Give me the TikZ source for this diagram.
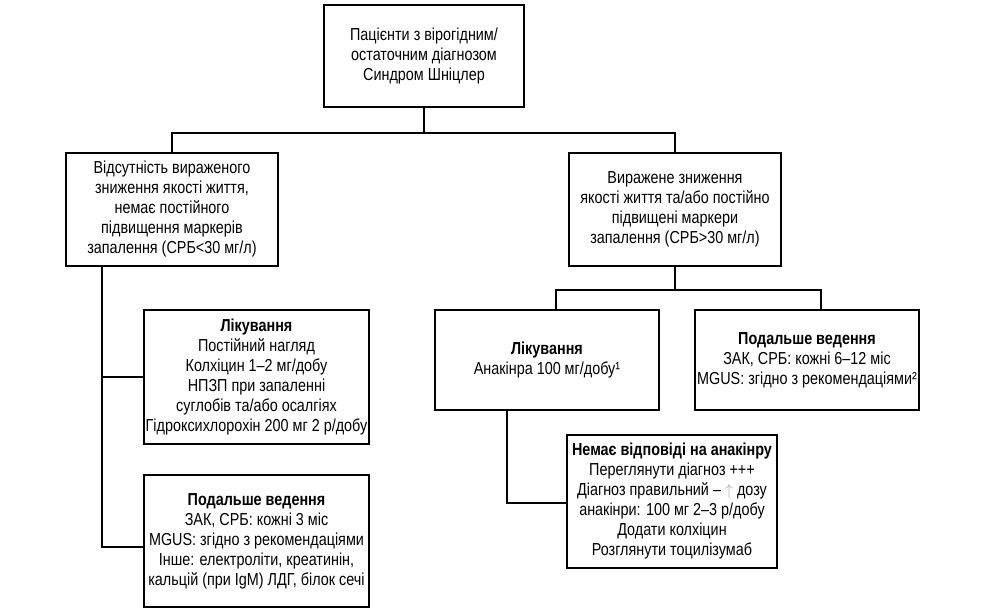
\documentclass[tikz,border=0pt]{standalone}
\usepackage{fontspec}
\setmainfont{Liberation Sans}[FakeStretch=0.83]
\usetikzlibrary{calc}
\begin{document}
\begin{tikzpicture}[x=0.75pt,y=-0.75pt,
  box/.style={draw, line width=1.3pt, inner sep=0pt, align=center, font=\fontsize{13}{15}\selectfont},
  conn/.style={line width=1.3pt}]
\useasboundingbox (0,0) rectangle (986,611);
\fill[white] (0,0) rectangle (986,611);
\node[box, minimum width=150pt, minimum height=76.5pt] (top) at (424,56)
  {Пацієнти з вірогідним/\\остаточним діагнозом\\Синдром Шніцлер};
\node[box, minimum width=159pt, minimum height=84.75pt] (L1) at (172,209.5)
  {Відсутність вираженого\\зниження якості життя,\\немає постійного\\підвищення маркерів\\запалення (СРБ<30 мг/л)};
\node[box, minimum width=159pt, minimum height=84.75pt] (R1) at (675,209.5)
  {Виражене зниження\\якості життя та/або постійно\\підвищені маркери\\запалення (СРБ>30 мг/л)};
\node[box, minimum width=168.75pt, minimum height=100.5pt] (LT) at (256.5,377)
  {\textbf{Лікування}\\Постійний нагляд\\Колхіцин 1–2 мг/добу\\НПЗП при запаленні\\суглобів та/або осалгіях\\Гідроксихлорохін 200 мг 2 р/добу};
\node[box, minimum width=168.75pt, minimum height=99pt] (LF) at (256.5,541)
  {\textbf{Подальше ведення}\\ЗАК, СРБ: кожні 3 міс\\MGUS: згідно з рекомендаціями\\Інше: електроліти, креатинін,\\кальцій (при IgM) ЛДГ, білок сечі};
\node[box, minimum width=168pt, minimum height=75pt] (RT) at (547,360)
  {\textbf{Лікування}\\Анакінра 100 мг/добу¹};
\node[box, minimum width=168pt, minimum height=75pt] (RF) at (807,360)
  {\textbf{Подальше ведення}\\ЗАК, СРБ: кожні 6–12 міс\\MGUS: згідно з рекомендаціями²};
\node[box, minimum width=157.5pt, minimum height=99.75pt] (NR) at (672,501.5)
  {\textbf{Немає відповіді на анакінру}\\Переглянути діагноз +++\\Діагноз правильний – {\color{gray!70}$\uparrow$} дозу\\анакінри: 100 мг 2–3 р/добу\\Додати колхіцин\\Розглянути тоцилізумаб};
% connectors
\coordinate (j1) at ($(top.south)+(0,25)$);
\draw[conn] (top.south) -- (j1);
\draw[conn] (L1.north) |- (j1) -| (R1.north);
\coordinate (j2) at ($(R1.south)+(0,23)$);
\draw[conn] (R1.south) -- (j2);
\draw[conn] ($(RT.north)+(9,0)$) |- (j2) -| ($(RF.north)+(14,0)$);
\coordinate (l1) at ($(L1.south)+(-70,0)$);
\draw[conn] (l1) |- (LT.west);
\draw[conn] (l1) |- ($(LF.west)+(0,6)$);
\draw[conn] ($(RT.south)+(-40,0)$) |- ($(NR.west)+(0,1.5)$);
\end{tikzpicture}
\end{document}
